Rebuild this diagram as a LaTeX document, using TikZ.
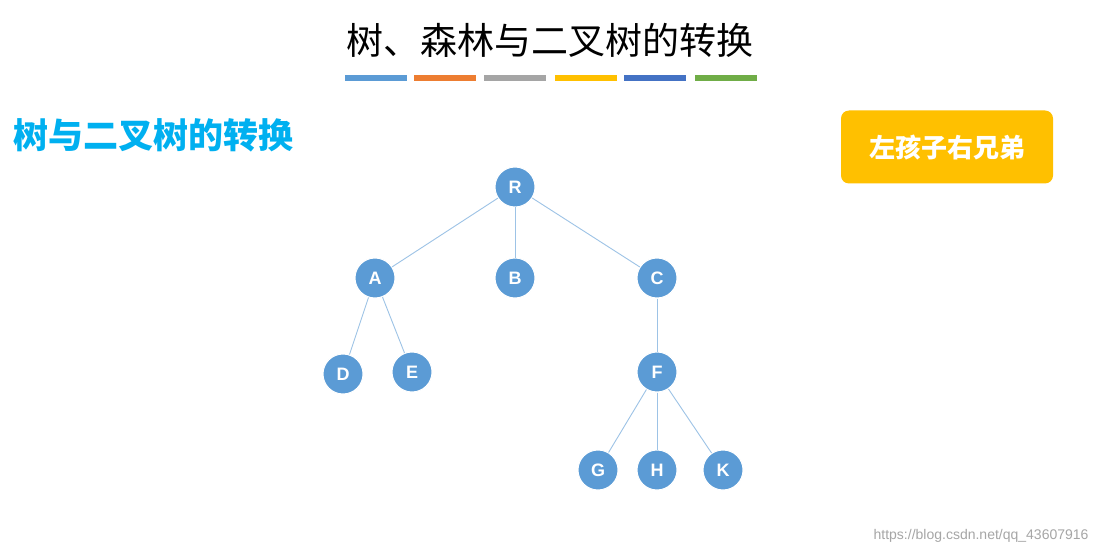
\documentclass[tikz,border=0pt]{standalone}
\usepackage{fontspec}
\setmainfont{Liberation Sans}
\newfontfamily\cjk{Noto Sans CJK SC}
\definecolor{nodeblue}{HTML}{5B9BD5}
\definecolor{edgeblue}{HTML}{9DC3E6}
\definecolor{c1}{HTML}{5B9BD5}
\definecolor{c2}{HTML}{ED7D31}
\definecolor{c3}{HTML}{A5A5A5}
\definecolor{c4}{HTML}{FFC000}
\definecolor{c5}{HTML}{4472C4}
\definecolor{c6}{HTML}{70AD47}
\definecolor{headcyan}{HTML}{00B0F0}
\begin{document}
\begin{tikzpicture}[x=1pt,y=-1pt,
  tnode/.style={circle,fill=nodeblue,draw=white,line width=1pt,minimum size=40pt,inner sep=0pt,text=white,font=\fontsize{18}{18}\selectfont\bfseries},
  edge/.style={draw=edgeblue,line width=0.9pt},
  bar/.style={minimum width=62pt,minimum height=6pt,inner sep=0pt}]
\useasboundingbox[fill=white] (0,0) rectangle (1100,556);
\node (title) at (550,40) {\cjk\fontsize{37}{37}\selectfont 树、森林与二叉树的转换};
\foreach \x/\c [count=\i] in {376/c1,445/c2,515/c3,586/c4,655/c5,726/c6}
  \node[bar,fill=\c] (bar\i) at (\x,78) {};
\node[anchor=west,text=headcyan] (head) at (10,135) {\cjk\bfseries\fontsize{35}{35}\selectfont 树与二叉树的转换};
\node[rounded corners=8pt,fill=c4,minimum width=212pt,minimum height=73pt,text=white] (rule) at (947,147) {\cjk\bfseries\fontsize{26}{26}\selectfont 左孩子右兄弟};
\node[tnode] (R) at (515,187) {R};
\node[tnode] (A) at (375,278) {A};
\node[tnode] (B) at (515,278) {B};
\node[tnode] (C) at (657,278) {C};
\node[tnode] (D) at (343,374) {D};
\node[tnode] (E) at (412,372) {E};
\node[tnode] (F) at (657,372) {F};
\node[tnode] (G) at (598,470) {G};
\node[tnode] (H) at (657,470) {H};
\node[tnode] (K) at (723,470) {K};
\foreach \a/\b in {R/A,R/B,R/C,A/D,A/E,C/F,F/G,F/H,F/K}
  \draw[edge] (\a) -- (\b);
\node[anchor=east,text=gray!70,font=\fontsize{14}{14}\selectfont] (wm) at (1092,536) {https://blog.csdn.net/qq\_43607916};
\end{tikzpicture}
\end{document}
